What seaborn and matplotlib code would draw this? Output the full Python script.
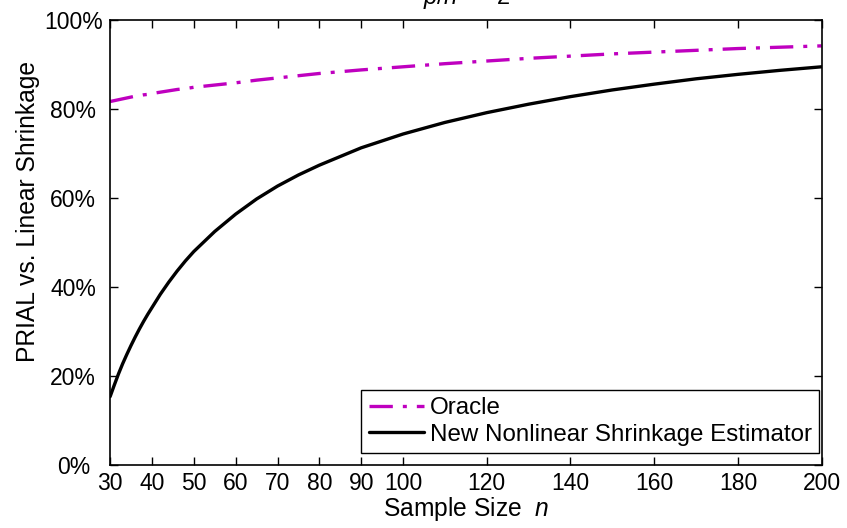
import pandas as pd
import seaborn as sns
import matplotlib.pyplot as plt
from matplotlib.ticker import PercentFormatter

# sample sizes and PRIAL values (percent)
sample_size = [30, 31, 32, 33, 34, 35, 36, 37, 38, 39, 40, 42, 44, 46, 48, 50,
               55, 60, 65, 70, 75, 80, 90, 100, 110, 120, 130, 140, 150, 160,
               170, 180, 190, 200]
oracle = [81.7, 81.9, 82.1, 82.3, 82.5, 82.7, 82.9, 83.0, 83.2, 83.3, 83.5,
          83.8, 84.1, 84.4, 84.6, 84.9, 85.4, 85.9, 86.5, 87.0, 87.5, 88.0,
          88.8, 89.5, 90.2, 90.8, 91.4, 91.9, 92.4, 92.8, 93.2, 93.6, 93.9,
          94.2]
nonlinear = [15.4, 18.0, 20.5, 22.8, 24.9, 26.9, 28.8, 30.6, 32.3, 33.9, 35.4,
             38.4, 41.1, 43.6, 45.9, 48.0, 52.5, 56.4, 59.8, 62.7, 65.2, 67.4,
             71.3, 74.4, 77.0, 79.2, 81.1, 82.8, 84.3, 85.6, 86.8, 87.8, 88.7,
             89.5]

x_ticks = [30, 40, 50, 60, 70, 80, 90, 100, 120, 140, 160, 180, 200]
y_ticks = [0, 20, 40, 60, 80, 100]

sns.set_style("ticks")
plt.rcParams['font.family'] = ['Liberation Sans', 'DejaVu Sans']
plt.rcParams['mathtext.fontset'] = 'custom'
plt.rcParams['mathtext.it'] = 'Liberation Sans:italic'
plt.rcParams['mathtext.rm'] = 'Liberation Sans'
plt.rcParams['text.color'] = 'black'
plt.rcParams['axes.labelcolor'] = 'black'
plt.rcParams['xtick.color'] = 'black'
plt.rcParams['ytick.color'] = 'black'

df = pd.DataFrame({"n": sample_size, "Oracle": oracle,
                   "New Nonlinear Shrinkage Estimator": nonlinear})

fig = plt.figure(figsize=(8.47, 5.28), dpi=100)
ax = fig.add_axes([0.130, 0.119, 0.840, 0.843])

sns.lineplot(data=df, x="n", y="Oracle", ax=ax, color="#bf00bf",
             linewidth=2.4, linestyle=(0, (7, 3, 1.2, 3)), label="Oracle")
sns.lineplot(data=df, x="n", y="New Nonlinear Shrinkage Estimator", ax=ax,
             color="black", linewidth=2.4,
             label="New Nonlinear Shrinkage Estimator")

ax.set_xlim(30, 200)
ax.set_ylim(0, 100)
ax.set_xticks(x_ticks)
ax.set_yticks(y_ticks)
ax.yaxis.set_major_formatter(PercentFormatter(decimals=0))
ax.tick_params(direction="in", length=6, width=1, labelsize=16.5,
               top=True, right=True)
ax.tick_params(axis="x", pad=5)
# y tick labels are centred on a common column, like the original export
ax.tick_params(axis="y", pad=26.5)
for lab in ax.get_yticklabels():
    lab.set_horizontalalignment("center")
for s in ax.spines.values():
    s.set_linewidth(1.2)
    s.set_color("black")

ax.set_xlabel("Sample Size  $n$", fontsize=17.7, labelpad=0)
ax.set_ylabel("PRIAL vs. Linear Shrinkage", fontsize=17.7)
ax.yaxis.set_label_coords(-0.099, 0.569)

leg = ax.legend(loc="lower right", bbox_to_anchor=(0.997, 0.027),
                fontsize=17.4, frameon=True, fancybox=False,
                edgecolor="black", framealpha=1, handlelength=2.3,
                borderpad=0.3, labelspacing=0.2, handletextpad=0.25,
                borderaxespad=0)
leg.get_frame().set_linewidth(1.0)

# title sits mostly above the canvas, as in the original export
fig.text(0.551, 0.992, "$p/n$  =  2", ha="center", va="baseline", fontsize=17)

fig.savefig("out.png", dpi=100)
